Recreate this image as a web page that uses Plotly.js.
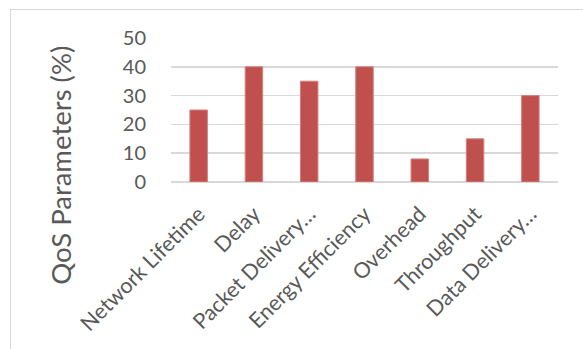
<!DOCTYPE html>
<html>
<head>
<meta charset="utf-8">
<script src="https://cdn.plot.ly/plotly-3.0.1.min.js"></script>
<style>
html,body{margin:0;padding:0;background:#fff;overflow:hidden;}
#frame{position:absolute;left:10px;top:9px;width:1000px;height:1000px;border:1px solid #d9d9d9;}
#chart{position:absolute;left:0;top:0;width:583px;height:349px;}
</style>
</head>
<body>
<div id="frame"></div>
<div id="chart"></div>
<script>
const categories = ["Network Lifetime","Delay","Packet Delivery…","Energy Efficiency","Overhead","Throughput","Data Delivery…"];
const values = [25, 40, 35, 40, 8, 15, 30];
const yTickVals = [0, 10, 20, 30, 40, 50];
const yTitle = "QoS Parameters (%)";

const fam = "Lato, 'Open Sans', sans-serif";
const yfont = {family: fam, size: 20, color: "#595959"};
const xfont = {family: fam, size: 21.5, color: "#595959"};

Plotly.newPlot("chart", [{
  type: "bar",
  x: categories,
  y: values,
  marker: {color: "#C0504D", line: {color: "#d2807d", width: 1}},
  hoverinfo: "none"
}], {
  width: 583, height: 349,
  margin: {l: 171, r: 25.3, t: 38.3, b: 166.7},
  paper_bgcolor: "rgba(0,0,0,0)",
  plot_bgcolor: "rgba(0,0,0,0)",
  bargap: 0.684,
  showlegend: false,
  font: yfont,
  xaxis: {
    tickangle: -45,
    tickfont: xfont,
    showgrid: false,
    showline: false,
    zeroline: false,
    ticks: "outside", ticklen: 10, tickcolor: "rgba(0,0,0,0)"
  },
  yaxis: {
    range: [0, 50],
    tickvals: yTickVals,
    tickfont: yfont,
    showgrid: true,
    gridcolor: "#d9d9d9",
    gridwidth: 1.5,
    zeroline: true,
    zerolinecolor: "#d9d9d9",
    zerolinewidth: 1.5,
    showline: false,
    ticks: "outside", ticklen: 20, tickcolor: "rgba(0,0,0,0)"
  },
  annotations: [{
    text: yTitle,
    xref: "paper", yref: "paper",
    x: -0.284, y: 0.113,
    xanchor: "center", yanchor: "middle",
    textangle: -90,
    showarrow: false,
    font: {family: fam, size: 27.5, color: "#595959"}
  }]
}, {staticPlot: true, displayModeBar: false});
</script>
</body>
</html>
